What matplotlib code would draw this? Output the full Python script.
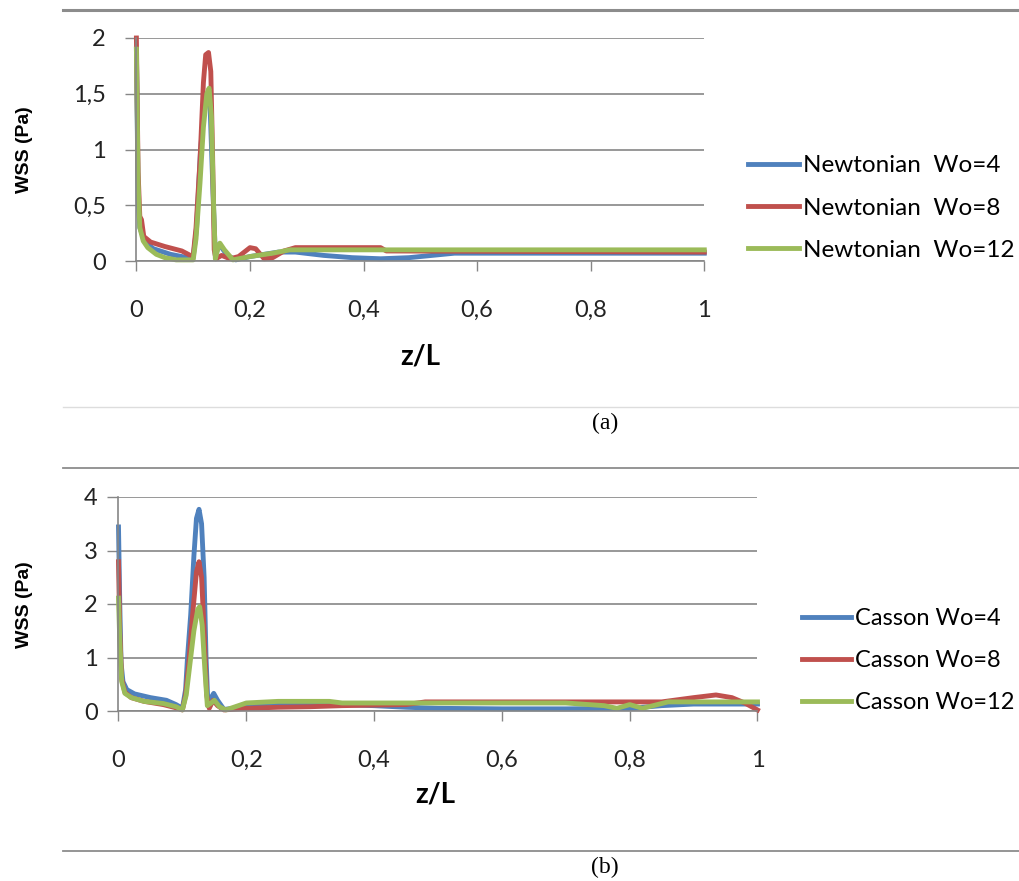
import matplotlib
matplotlib.use("Agg")
import matplotlib.pyplot as plt
from matplotlib.lines import Line2D

# ---- data: (a) Newtonian ----
newt_z4 = [0, 0.003, 0.006, 0.015, 0.03, 0.06, 0.09, 0.1, 0.106, 0.113, 0.12, 0.125, 0.13, 0.135, 0.139,
           0.146, 0.16, 0.175, 0.2, 0.25, 0.28, 0.33, 0.38, 0.43, 0.48, 0.52, 0.56, 1.0]
newt_w4 = [1.9, 0.55, 0.3, 0.17, 0.11, 0.06, 0.03, 0.03, 0.3, 1.0, 1.4, 1.5, 1.35, 0.6, 0.05,
           0.15, 0.05, 0.01, 0.04, 0.08, 0.08, 0.05, 0.03, 0.02, 0.03, 0.05, 0.07, 0.07]

newt_z8 = [0, 0.003, 0.006, 0.009, 0.013, 0.025, 0.05, 0.08, 0.095, 0.1, 0.105, 0.112, 0.118, 0.122,
           0.127, 0.131, 0.134, 0.137, 0.14, 0.15, 0.165, 0.18, 0.2, 0.21, 0.225, 0.24, 0.26, 0.28,
           0.43, 0.44, 1.0]
newt_w8 = [2.0, 0.8, 0.4, 0.37, 0.22, 0.17, 0.13, 0.09, 0.05, 0.05, 0.3, 0.9, 1.6, 1.85,
           1.87, 1.7, 1.0, 0.1, 0.02, 0.05, 0.02, 0.04, 0.12, 0.11, 0.02, 0.03, 0.09, 0.12,
           0.12, 0.09, 0.08]

newt_z12 = [0, 0.003, 0.006, 0.012, 0.02, 0.035, 0.05, 0.07, 0.1, 0.105, 0.112, 0.118, 0.124, 0.128,
            0.132, 0.136, 0.139, 0.143, 0.147, 0.155, 0.17, 0.2, 0.24, 0.27, 1.0]
newt_w12 = [1.9, 0.7, 0.3, 0.18, 0.12, 0.06, 0.03, 0.01, 0.01, 0.2, 0.7, 1.2, 1.5, 1.55,
            1.3, 0.5, 0.02, 0.1, 0.16, 0.1, 0.01, 0.04, 0.07, 0.1, 0.1]

# ---- data: (b) Casson ----
cas_z4 = [0, 0.002, 0.004, 0.007, 0.013, 0.025, 0.05, 0.075, 0.09, 0.1, 0.105, 0.108, 0.113, 0.118,
          0.122, 0.126, 0.13, 0.134, 0.137, 0.14, 0.145, 0.149, 0.155, 0.165, 0.18, 0.2, 0.25, 0.3,
          0.35, 0.4, 0.45, 0.5, 0.6, 0.7, 0.8, 0.85, 0.9, 1.0]
cas_w4 = [3.44, 2.0, 0.9, 0.55, 0.4, 0.32, 0.25, 0.2, 0.12, 0.05, 0.4, 1.0, 1.8, 2.9,
          3.6, 3.77, 3.5, 2.5, 1.0, 0.1, 0.25, 0.33, 0.2, 0.03, 0.05, 0.12, 0.15, 0.15,
          0.12, 0.1, 0.07, 0.05, 0.04, 0.04, 0.05, 0.1, 0.13, 0.13]

cas_z8 = [0, 0.002, 0.005, 0.01, 0.02, 0.04, 0.07, 0.09, 0.1, 0.105, 0.11, 0.116, 0.122, 0.126,
          0.13, 0.134, 0.138, 0.142, 0.148, 0.155, 0.165, 0.2, 0.25, 0.3, 0.35, 0.45, 0.48, 0.7,
          0.85, 0.9, 0.935, 0.96, 0.98, 1.0]
cas_w8 = [2.79, 1.5, 0.6, 0.35, 0.25, 0.18, 0.12, 0.06, 0.02, 0.3, 0.9, 1.8, 2.6, 2.79,
          2.5, 1.5, 0.3, 0.05, 0.2, 0.1, 0.02, 0.05, 0.07, 0.08, 0.1, 0.12, 0.17, 0.17,
          0.17, 0.25, 0.3, 0.25, 0.15, 0.02]

cas_z12 = [0, 0.002, 0.005, 0.01, 0.02, 0.04, 0.07, 0.09, 0.1, 0.106, 0.112, 0.118, 0.124, 0.127,
           0.131, 0.135, 0.139, 0.145, 0.15, 0.158, 0.168, 0.2, 0.25, 0.33, 0.35, 0.7, 0.76, 0.78,
           0.8, 0.82, 0.86, 1.0]
cas_w12 = [2.11, 1.3, 0.55, 0.33, 0.25, 0.18, 0.14, 0.08, 0.02, 0.3, 0.9, 1.5, 1.9, 1.95,
           1.6, 0.8, 0.1, 0.15, 0.2, 0.08, 0.02, 0.15, 0.18, 0.18, 0.15, 0.15, 0.1, 0.05,
           0.12, 0.05, 0.17, 0.17]

x_ticks = [0, 0.2, 0.4, 0.6, 0.8, 1.0]
x_labels = ["0", "0,2", "0,4", "0,6", "0,8", "1"]
ya_ticks = [0, 0.5, 1, 1.5, 2]
ya_labels = ["0", "0,5", "1", "1,5", "2"]
yb_ticks = [0, 1, 2, 3, 4]
yb_labels = ["0", "1", "2", "3", "4"]

labels_a = ["Newtonian  Wo=4", "Newtonian  Wo=8", "Newtonian  Wo=12"]
labels_b = ["Casson Wo=4", "Casson Wo=8", "Casson Wo=12"]
colors = ["#4F81BD", "#C0504D", "#9BBB59"]

GRAY = "#868686"
plt.rcParams["font.family"] = ["Lato", "DejaVu Sans"]

fig = plt.figure(figsize=(10.2, 8.81), dpi=100)


def style_axes(ax, yticks, ylabels, ypad):
    ax.set_xlim(0, 1)
    ax.set_xticks(x_ticks)
    ax.set_xticklabels(x_labels)
    ax.set_yticks(yticks)
    ax.set_yticklabels(ylabels)
    ax.set_ylim(yticks[0], yticks[-1])
    for s in ["top", "right"]:
        ax.spines[s].set_visible(False)
    for s in ["left", "bottom"]:
        ax.spines[s].set_color(GRAY)
        ax.spines[s].set_linewidth(1.2)
    ax.grid(axis="y", color=GRAY, linewidth=1.2)
    ax.set_axisbelow(True)
    ax.tick_params(axis="x", direction="out", length=7, width=1, color=GRAY,
                   pad=21, labelsize=17, labelcolor="#222222")
    ax.tick_params(axis="y", direction="out", length=8, width=1, color=GRAY,
                   pad=ypad, labelsize=17, labelcolor="#222222")


# (a)
ax1 = fig.add_axes([136.4 / 1020, 1 - 261 / 881, (704.3 - 136.4) / 1020, 223 / 881])
series_a = [(newt_z4, newt_w4), (newt_z8, newt_w8), (newt_z12, newt_w12)]
for (z, w), c, lab in zip(series_a, colors, labels_a):
    ax1.plot(z, w, color=c, linewidth=3.5, label=lab, clip_on=False, solid_joinstyle="round")
style_axes(ax1, ya_ticks, ya_labels, 14)
ax1.legend(loc="center left", bbox_to_anchor=(748 / 1020, 1 - 208 / 881),
           bbox_transform=fig.transFigure, frameon=False, fontsize=17.5,
           handlelength=2.1, handletextpad=0.15, labelspacing=0.88,
           borderpad=0, borderaxespad=0)

# (b)
ax2 = fig.add_axes([118.5 / 1020, 1 - 711 / 881, (757.5 - 118.5) / 1020, 214 / 881])
series_b = [(cas_z4, cas_w4), (cas_z8, cas_w8), (cas_z12, cas_w12)]
for (z, w), c, lab in zip(series_b, colors, labels_b):
    ax2.plot(z, w, color=c, linewidth=3.5, label=lab, clip_on=False, solid_joinstyle="round")
style_axes(ax2, yb_ticks, yb_labels, 7)
ax2.legend(loc="center left", bbox_to_anchor=(801.7 / 1020, 1 - 660.5 / 881),
           bbox_transform=fig.transFigure, frameon=False, fontsize=17,
           handlelength=2.1, handletextpad=0.15, labelspacing=0.88,
           borderpad=0, borderaxespad=0)

# axis titles
fig.text(420 / 1020, 1 - 357 / 881, "z/L", fontsize=20, fontweight="bold", ha="center", va="center")
fig.text(435 / 1020, 1 - 795 / 881, "z/L", fontsize=20, fontweight="bold", ha="center", va="center")
fig.text(25 / 1020, 1 - 150 / 881, "WSS (Pa)", fontsize=14, fontweight="bold", rotation=90,
         family="Liberation Sans", ha="center", va="center")
fig.text(25 / 1020, 1 - 605 / 881, "WSS (Pa)", fontsize=14, fontweight="bold", rotation=90,
         family="Liberation Sans", ha="center", va="center")

# separator lines and captions
x0 = 63 / 1020
fig.add_artist(Line2D([x0, 1], [1 - 10 / 881] * 2, color="#8c8c8c", linewidth=2.2))
fig.add_artist(Line2D([x0, 1], [1 - 407 / 881] * 2, color="#dddddd", linewidth=1))
fig.add_artist(Line2D([x0, 1], [1 - 468 / 881] * 2, color="#8c8c8c", linewidth=1.3))
fig.add_artist(Line2D([x0, 1], [1 - 851 / 881] * 2, color="#8c8c8c", linewidth=1.3))
fig.text(605 / 1020, 1 - 423 / 881, "(a)", fontsize=17, family="Liberation Serif",
         ha="center", va="center")
fig.text(605 / 1020, 1 - 867 / 881, "(b)", fontsize=17, family="Liberation Serif",
         ha="center", va="center")

fig.savefig("out.png", dpi=100, facecolor="white")
